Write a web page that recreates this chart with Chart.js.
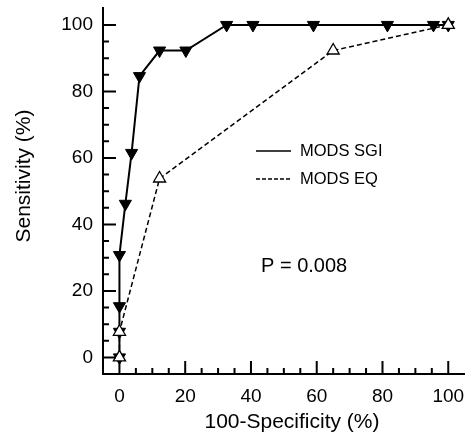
<!DOCTYPE html>
<html>
<head>
<meta charset="utf-8">
<script src="https://cdn.jsdelivr.net/npm/chart.js@4.4.1/dist/chart.umd.min.js"></script>
<style>
  html, body { margin: 0; padding: 0; background: #fff; }
  #wrap { width: 473px; height: 435px; }
</style>
</head>
<body>
<div id="wrap"><canvas id="roc"></canvas></div>
<script>
// values (% units)
const sgiX = [0, 0, 0, 0, 1.8, 3.7, 6.1, 12.2, 20.2, 32.6, 40.6, 59, 81.5, 95.5, 100];
const sgiY = [0, 7.7, 15.4, 30.8, 46.2, 61.5, 84.6, 92.3, 92.3, 100, 100, 100, 100, 100, 100];
const eqX = [0, 0, 12.2, 65, 100];
const eqY = [0, 7.7, 53.8, 92.3, 100];
const tickVals = [0, 20, 40, 60, 80, 100];
const minorStep = 5;
const seriesNames = ['MODS SGI', 'MODS EQ'];
const pText = 'P = 0.008';

const FONT = '"Liberation Sans", Arial, sans-serif';

const toPts = (xs, ys) => xs.map((x, i) => ({ x: x, y: ys[i] }));

// keep the plot box fixed: no extra room for edge labels
const fixBox = size => s => {
  if (s.isHorizontal()) s.height = size; else s.width = size;
  s.paddingTop = 0; s.paddingBottom = 0; s.paddingLeft = 0; s.paddingRight = 0;
};

// inward ticks, axis titles, legend and p-value
const decor = {
  id: 'decor',
  afterDraw(chart) {
    const { ctx, chartArea: a, scales: { x, y } } = chart;
    ctx.save();
    ctx.strokeStyle = '#000';
    ctx.lineWidth = 2;
    for (let v = 0; v <= 100; v += minorStep) {
      const len = v % 20 === 0 ? 13 : 6;
      const px = x.getPixelForValue(v);
      const py = y.getPixelForValue(v);
      ctx.beginPath();
      ctx.moveTo(px, a.bottom); ctx.lineTo(px, a.bottom - len);
      ctx.moveTo(a.left, py); ctx.lineTo(a.left + len, py);
      ctx.stroke();
    }

    ctx.fillStyle = '#000';
    ctx.font = '21px ' + FONT;
    ctx.textAlign = 'center';
    ctx.textBaseline = 'middle';
    ctx.fillText('100-Specificity (%)', 292, 422);
    ctx.save();
    ctx.translate(24, 176);
    ctx.rotate(-Math.PI / 2);
    ctx.fillText('Sensitivity (%)', 0, 0);
    ctx.restore();

    // legend
    ctx.lineWidth = 1.5;
    ctx.beginPath();
    ctx.moveTo(256, 151); ctx.lineTo(291, 151);
    ctx.stroke();
    ctx.setLineDash([4, 2]);
    ctx.beginPath();
    ctx.moveTo(256, 179); ctx.lineTo(291, 179);
    ctx.stroke();
    ctx.setLineDash([]);
    ctx.textAlign = 'left';
    ctx.font = '16.5px ' + FONT;
    ctx.fillText(seriesNames[0], 300, 151);
    ctx.fillText(seriesNames[1], 300, 179);

    ctx.font = '20px ' + FONT;
    ctx.fillText(pText, 261, 266);
    ctx.restore();
  }
};

new Chart(document.getElementById('roc'), {
  type: 'scatter',
  data: {
    datasets: [
      {
        label: seriesNames[1],
        data: toPts(eqX, eqY),
        showLine: true,
        borderColor: '#000',
        borderWidth: 1.5,
        borderDash: [5, 3],
        pointStyle: 'triangle',
        pointRadius: 7,
        pointBackgroundColor: '#fff',
        pointBorderColor: '#000',
        pointBorderWidth: 1.3,
        order: 1,
      },
      {
        label: seriesNames[0],
        data: toPts(sgiX, sgiY),
        showLine: true,
        borderColor: '#000',
        borderWidth: 2,
        pointStyle: 'triangle',
        rotation: 180,
        pointRadius: 7,
        pointBackgroundColor: '#000',
        pointBorderColor: '#000',
        pointBorderWidth: 1,
        order: 2,
      },
    ],
  },
  options: {
    responsive: true,
    maintainAspectRatio: false,
    animation: false,
    layout: { padding: { top: 8, right: 3, left: 0, bottom: 0 } },
    plugins: {
      legend: { display: false },
      tooltip: { enabled: false },
    },
    scales: {
      x: {
        type: 'linear',
        min: -5,
        max: 105,
        afterBuildTicks: s => { s.ticks = tickVals.map(v => ({ value: v })); },
        afterFit: fixBox(61),
        grid: { display: false, drawTicks: false },
        border: { display: true, color: '#000', width: 2 },
        ticks: { color: '#000', font: { family: FONT, size: 19 }, padding: 11, maxRotation: 0 },
      },
      y: {
        type: 'linear',
        min: -5,
        max: 105,
        afterBuildTicks: s => { s.ticks = tickVals.map(v => ({ value: v })); },
        afterFit: fixBox(103),
        grid: { display: false, drawTicks: false },
        border: { display: true, color: '#000', width: 2 },
        ticks: { color: '#000', font: { family: FONT, size: 19 }, padding: 10 },
      },
    },
  },
  plugins: [decor],
});
</script>
</body>
</html>
